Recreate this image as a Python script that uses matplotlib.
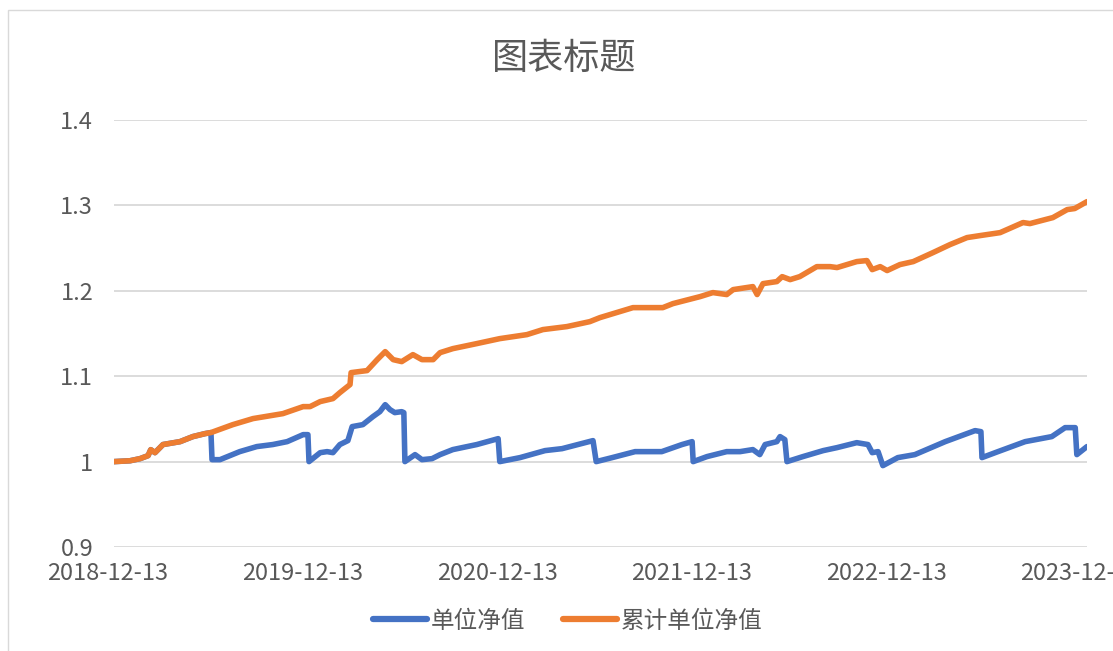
import numpy as np
import pandas as pd
import matplotlib
matplotlib.use("Agg")
import matplotlib.pyplot as plt
import matplotlib.transforms as mtransforms
from matplotlib.patches import Rectangle
from matplotlib.ticker import FuncFormatter

plt.rcParams['font.family'] = ['Noto Sans CJK SC', 'DejaVu Sans']

# data (days counted from the first date)
start = pd.Timestamp("2018-12-13")

unit_days = [0, 30, 49, 64, 69, 77, 92, 124, 148, 171, 182, 184, 199, 236, 268, 298, 325,
             355, 364, 366, 387, 400, 411, 424, 439, 447, 467, 486, 499, 509, 518, 527, 540,
             544, 546, 565, 578, 597, 612, 636, 681, 721, 724, 762, 809, 841, 899, 905, 935,
             978, 1028, 1066, 1085, 1087, 1113, 1150, 1175, 1199, 1212, 1222, 1244, 1250, 1259,
             1263, 1293, 1331, 1357, 1394, 1415, 1423, 1434, 1443, 1471, 1503, 1560, 1616, 1627,
             1629, 1659, 1710, 1760, 1785, 1804, 1807, 1826]
unit_nav = [1.000, 1.001, 1.0035, 1.007, 1.014, 1.0105, 1.020, 1.0234, 1.0293, 1.0328, 1.034,
            1.0023, 1.0023, 1.0117, 1.0176, 1.020, 1.0234, 1.0316, 1.0316, 1.000, 1.0105,
            1.0117, 1.0105, 1.020, 1.0246, 1.041, 1.0433, 1.0527, 1.0585, 1.0667, 1.0609,
            1.0574, 1.0585, 1.0574, 1.000, 1.0082, 1.0023, 1.0035, 1.0082, 1.0141, 1.020,
            1.0269, 1.000, 1.0047, 1.0129, 1.0152, 1.0246, 1.000, 1.0047, 1.0117, 1.0117,
            1.020, 1.0234, 1.000, 1.0059, 1.0117, 1.0117, 1.0141, 1.0082, 1.020, 1.0234,
            1.0293, 1.0258, 1.000, 1.0059, 1.0129, 1.0164, 1.0222, 1.020, 1.0105, 1.0117,
            0.9953, 1.0047, 1.0082, 1.0234, 1.0363, 1.0351, 1.0047, 1.0117, 1.0234, 1.0293,
            1.0398, 1.0398, 1.0082, 1.0176]

acc_days = [0, 30, 49, 64, 69, 77, 92, 124, 148, 171, 182, 223, 261, 317, 355, 368, 387, 411,
            424, 443, 445, 475, 494, 509, 524, 540, 561, 578, 599, 612, 636, 681, 724, 775,
            805, 850, 893, 912, 974, 1030, 1049, 1100, 1124, 1150, 1162, 1199, 1207, 1218,
            1244, 1254, 1269, 1287, 1319, 1344, 1357, 1394, 1413, 1423, 1438, 1451, 1475,
            1500, 1537, 1569, 1601, 1625, 1663, 1706, 1719, 1762, 1789, 1803, 1826]
acc_nav = [1.000, 1.001, 1.0035, 1.007, 1.014, 1.0105, 1.020, 1.0234, 1.0293, 1.0328, 1.034,
           1.0433, 1.0504, 1.0562, 1.0644, 1.0644, 1.0703, 1.0738, 1.0808, 1.0902, 1.1042,
           1.1066, 1.1194, 1.1288, 1.1194, 1.1171, 1.1253, 1.1194, 1.1194, 1.1276, 1.1323,
           1.1382, 1.144, 1.1487, 1.1546, 1.1581, 1.1639, 1.1686, 1.1803, 1.1803, 1.185,
           1.1932, 1.1979, 1.1956, 1.2014, 1.2049, 1.1956, 1.2084, 1.2108, 1.2166, 1.2131,
           1.2166, 1.2283, 1.2283, 1.2272, 1.2342, 1.2354, 1.2248, 1.2283, 1.2237, 1.2307,
           1.2342, 1.2447, 1.2541, 1.2623, 1.2646, 1.2681, 1.2799, 1.2787, 1.2857, 1.2951,
           1.2963, 1.3044]

tick_labels = ["2018-12-13", "2019-12-13", "2020-12-13", "2021-12-13", "2022-12-13", "2023-12-13"]
series_names = ["单位净值", "累计单位净值"]

unit_dates = start + pd.to_timedelta(unit_days, unit="D")
acc_dates = start + pd.to_timedelta(acc_days, unit="D")
tick_dates = pd.to_datetime(tick_labels)

text_col = "#595959"
grid_col = "#D9D9D9"

fig = plt.figure(figsize=(11.13, 6.51), dpi=100)
ax = fig.add_axes([0.1024, 0.1597, 0.8742, 0.656])

# chart area border
fig.patches.append(Rectangle((8 / 1113, -0.01), 1.1, 1 - 10 / 651 + 0.01, transform=fig.transFigure,
                             fill=False, edgecolor=grid_col, linewidth=1.0))

ax.plot(unit_dates, unit_nav, color="#4472C4", lw=4.0, solid_joinstyle="round",
        solid_capstyle="round", label=series_names[0], zorder=3)
ax.plot(acc_dates, acc_nav, color="#ED7D31", lw=4.0, solid_joinstyle="round",
        solid_capstyle="round", label=series_names[1], zorder=4)

ax.set_ylim(0.9, 1.4)
ax.set_yticks([0.9, 1.0, 1.1, 1.2, 1.3, 1.4])
ax.yaxis.set_major_formatter(FuncFormatter(lambda v, p: f"{v:g}"))
ax.set_xlim(tick_dates[0], tick_dates[-1])
ax.set_xticks(tick_dates)
ax.set_xticklabels(tick_labels)

ax.grid(axis="y", color=grid_col, lw=1.3)
ax.set_axisbelow(True)
for s in ax.spines.values():
    s.set_visible(False)
ax.tick_params(axis="both", length=0, labelsize=17, colors=text_col)
ax.tick_params(axis="y", pad=15)
ax.tick_params(axis="x", pad=11)
shift = mtransforms.ScaledTranslation(-6 / 100, 0, fig.dpi_scale_trans)
for lab in ax.get_xticklabels():
    lab.set_transform(lab.get_transform() + shift)

fig.text(0.507, 0.91, "图表标题", ha="center", va="center", fontsize=26, color=text_col)

leg = fig.legend(loc="center", bbox_to_anchor=(0.51, 0.046), ncol=2, frameon=False,
                 fontsize=17, handlelength=2.3, handletextpad=0.15, columnspacing=1.6)
for t in leg.get_texts():
    t.set_color(text_col)
for h in leg.get_lines():
    h.set_linewidth(4.5)

fig.savefig("out.png", dpi=100)
